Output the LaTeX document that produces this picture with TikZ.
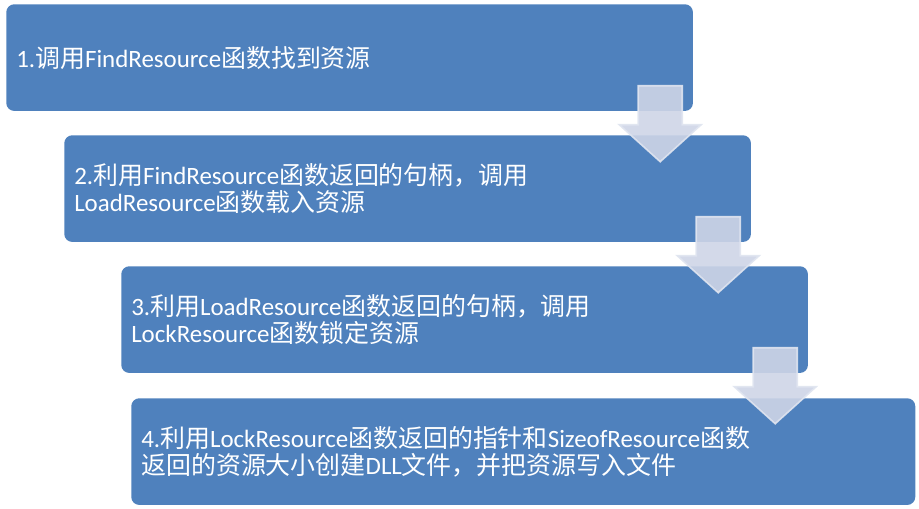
\documentclass[tikz,border=0pt]{standalone}
\usepackage{fontspec}
\setmainfont{Carlito}
\newfontfamily\zhfont{Noto Sans CJK SC}
\newcommand{\zh}[1]{{\zhfont #1}}
\definecolor{boxblue}{RGB}{79,129,189}
\definecolor{arrowfill}{RGB}{206,213,231}
\definecolor{arrowedge}{RGB}{224,229,240}

\begin{document}
\begin{tikzpicture}[x=0.75pt,y=-0.75pt,
  stepbox/.style={rectangle, rounded corners=6pt, fill=boxblue, text=white,
    anchor=north west, minimum height=80pt, inner xsep=7.5pt, inner ysep=0pt,
    text width=#1, align=left, font=\fontsize{18.7}{20.5}\selectfont},
  downarrow/.style={fill=arrowfill, fill opacity=0.9, draw=arrowedge,
    draw opacity=0.9, line width=1.2pt, line join=miter}]
  \useasboundingbox (0,0) rectangle (919,508);

  \node[stepbox=500pt] (box1) at (6,4)
    {1.\zh{调用}FindResource\zh{函数找到资源}};
  \node[stepbox=500pt] (box2) at (64,135)
    {2.\zh{利用}FindResource\zh{函数返回的句柄，调用}\\
     LoadResource\zh{函数载入资源}};
  \node[stepbox=500pt] (box3) at (121,266)
    {3.\zh{利用}LoadResource\zh{函数返回的句柄，调用}\\
     LockResource\zh{函数锁定资源}};
  \node[stepbox=573pt] (box4) at (131,398)
    {4.\zh{利用}LockResource\zh{函数返回的指针和}SizeofResource\zh{函数}\\
     \zh{返回的资源大小创建}DLL\zh{文件，并把资源写入文件}};

  % block arrows from one step to the next
  \foreach \b in {box1,box2,box3} {
    \coordinate (top-\b) at ([shift={(-33,-25.5)}]\b.south east);
    \draw[downarrow] (top-\b) ++(-22,0) -- ++(44,0) -- ++(0,39) -- ++(19,0)
      -- ++(-41,37) -- ++(-41,-37) -- ++(19,0) -- cycle;
  }
\end{tikzpicture}
\end{document}
